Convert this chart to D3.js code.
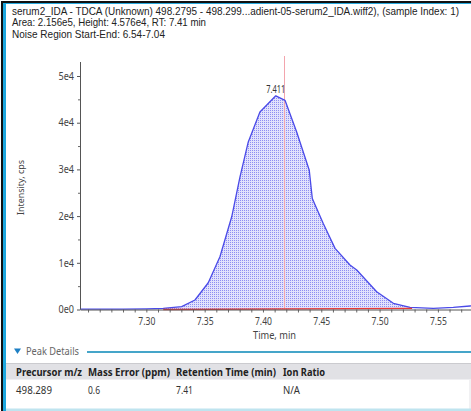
<!DOCTYPE html>
<html>
<head>
<meta charset="utf-8">
<script src="https://cdn.jsdelivr.net/npm/d3@7/dist/d3.min.js"></script>
<style>
  html, body { margin: 0; padding: 0; background: #fff; }
  svg { display: block; font-family: "Segoe UI", "Noto Sans", "Open Sans", sans-serif; }
</style>
</head>
<body>
<script>
// Extracted ion chromatogram: retention time (min) and intensity (cps)
const times = [7.243, 7.260, 7.280, 7.300, 7.3145, 7.3303, 7.3417, 7.3531, 7.3631, 7.3732,
               7.3803, 7.3874, 7.3974, 7.411, 7.4189, 7.4289, 7.4397, 7.4423, 7.4517, 7.4618,
               7.4746, 7.4804, 7.4975, 7.5118, 7.5261, 7.5461, 7.5632, 7.5775, 7.590];
const intensities = [60, 80, 70, 150, 250, 600, 2030, 5730, 11290, 19850,
                     28400, 35880, 42300, 45760, 44800, 38020, 29830, 23780, 18430, 13090,
                     9520, 8450, 3810, 1330, 470, 260, 470, 750, 820];

// Integration window and baseline
const peakStart = 7.3145, peakEnd = 7.5279;
const baselineStart = 0, baselineEnd = 250;
const apexRT = 7.411, apexLabel = "7.411";
const expectedRT = 7.418;

const xTicks = [7.30, 7.35, 7.40, 7.45, 7.50, 7.55];
const yTicks = [0, 10000, 20000, 30000, 40000, 50000];
const yTickLabels = ["0e0", "1e4", "2e4", "3e4", "4e4", "5e4"];

const headerLines = [
  "serum2_IDA - TDCA (Unknown) 498.2795 - 498.299...adient-05-serum2_IDA.wiff2), (sample Index: 1)",
  "Area: 2.156e5, Height: 4.576e4, RT: 7.41 min",
  "Noise Region Start-End: 6.54-7.04"
];
const tableColumns = ["Precursor m/z", "Mass Error (ppm)", "Retention Time (min)", "Ion Ratio"];
const tableRow = ["498.289", "0.6", "7.41", "N/A"];

const W = 471, H = 411;
const svg = d3.select("body").append("svg").attr("width", W).attr("height", H);

// Squeeze a text horizontally to a given width (the UI font is narrower than the fallbacks)
function fit(sel, widthOf) {
  sel.each(function (d, i) {
    const w = typeof widthOf === "function" ? widthOf(d, i) : widthOf;
    const cur = this.getComputedTextLength();
    if (cur > 0 && w) d3.select(this).attr("textLength", w).attr("lengthAdjust", "spacingAndGlyphs");
  });
  return sel;
}

// Window frame
svg.append("rect").attr("x", 0).attr("y", 0).attr("width", W).attr("height", H).attr("fill", "#fff");
svg.append("rect").attr("x", 1).attr("y", 1).attr("width", W - 1).attr("height", 2).attr("fill", "#111");
svg.append("rect").attr("x", 1).attr("y", 1).attr("width", 2).attr("height", H - 1).attr("fill", "#111");
svg.append("rect").attr("x", 3).attr("y", 3).attr("width", W - 3).attr("height", 1).attr("fill", "#2aa9dc");
svg.append("rect").attr("x", 3).attr("y", 3).attr("width", 3).attr("height", H - 3).attr("fill", "#1ea7de");

// Header text (compact line metrics so the three lines sit apart)
const headerY = [14.5, 26, 37.5];
const headerW = [447, 194, 153];
fit(svg.append("g").selectAll("text").data(headerLines).join("text")
  .attr("x", 12).attr("y", (d, i) => headerY[i])
  .attr("font-family", "\"Liberation Sans\", Arial, sans-serif")
  .attr("font-size", 10.2).attr("fill", "#222").text(d => d), (d, i) => headerW[i]);

// Scales
const x = d3.scaleLinear().domain([7.2431, 7.585]).range([80, 478.7]);
const y = d3.scaleLinear().domain([0, 53000]).range([309.5, 62]);

const defs = svg.append("defs");
defs.append("clipPath").attr("id", "plotClip").append("rect")
  .attr("x", 80).attr("y", 55).attr("width", W - 80).attr("height", 256);
const pat = defs.append("pattern").attr("id", "dots").attr("patternUnits", "userSpaceOnUse")
  .attr("width", 2).attr("height", 2);
pat.append("rect").attr("width", 2).attr("height", 2).attr("fill", "#e2e2fc");
pat.append("rect").attr("width", 1).attr("height", 1).attr("fill", "#8e8ef2");

const plot = svg.append("g").attr("clip-path", "url(#plotClip)");

const data = times.map((t, i) => ({ t, v: intensities[i] }));
const interp = t => {
  for (let i = 1; i < data.length; i++) {
    if (t <= data[i].t) {
      const a = data[i - 1], b = data[i];
      return a.v + (b.v - a.v) * (t - a.t) / (b.t - a.t);
    }
  }
  return data[data.length - 1].v;
};
const baseAt = t => baselineStart + (baselineEnd - baselineStart) * (t - peakStart) / (peakEnd - peakStart);

// Integrated area between trace and baseline
const inside = [{ t: peakStart, v: interp(peakStart) }]
  .concat(data.filter(d => d.t > peakStart && d.t < peakEnd))
  .concat([{ t: peakEnd, v: interp(peakEnd) }]);
const areaGen = d3.area().x(d => x(d.t)).y0(d => y(baseAt(d.t))).y1(d => y(d.v));
plot.append("path").datum(inside).attr("d", areaGen).attr("fill", "url(#dots)");

// Expected retention time marker
plot.append("line")
  .attr("x1", Math.round(x(expectedRT)) + 0.5).attr("x2", Math.round(x(expectedRT)) + 0.5)
  .attr("y1", 56).attr("y2", y(0))
  .attr("stroke", "#f3a5ad").attr("stroke-width", 1);

const tickFont = "\"Segoe UI\", \"Noto Sans\", sans-serif";

// Axes
const xAxisMinor = d3.axisBottom(x).tickValues(d3.range(7.25, 7.585, 0.01)).tickSize(3).tickFormat("");
const gxm = svg.append("g").attr("transform", `translate(0,${y(0)})`).call(xAxisMinor);
gxm.select(".domain").remove();
gxm.selectAll("line").attr("stroke", "#666");

const xAxis = d3.axisBottom(x).tickValues(xTicks).tickSize(0).tickPadding(8).tickFormat(d3.format(".2f"));
const gx = svg.append("g").attr("transform", `translate(0,${y(0)})`).call(xAxis);
gx.select(".domain").attr("stroke", "#555");
fit(gx.selectAll("text").attr("font-size", 10).attr("fill", "#444").attr("font-family", tickFont), 17);

const yAxisMinor = d3.axisLeft(y).tickValues(d3.range(5000, 53000, 10000)).tickSize(2).tickFormat("");
const gym = svg.append("g").attr("transform", "translate(80,0)").call(yAxisMinor);
gym.select(".domain").remove();
gym.selectAll("line").attr("stroke", "#666");

const yAxis = d3.axisLeft(y).tickValues(yTicks).tickSize(3).tickPadding(3)
  .tickFormat((d, i) => yTickLabels[i]);
const gy = svg.append("g").attr("transform", "translate(80,0)").call(yAxis);
gy.select(".domain").attr("stroke", "#555").attr("d", `M0.5,${y(0)}V62`);
gy.selectAll("line").attr("stroke", "#555");
fit(gy.selectAll("text").attr("font-size", 10).attr("fill", "#444").attr("font-family", tickFont), 15.5);

// Trace
const lineGen = d3.line().x(d => x(d.t)).y(d => y(d.v));
plot.append("path").datum(data).attr("d", lineGen)
  .attr("fill", "none").attr("stroke", "#4a4ae8").attr("stroke-width", 1.3)
  .attr("stroke-linejoin", "round");

// Baseline
plot.append("line")
  .attr("x1", x(peakStart)).attr("y1", y(baselineStart))
  .attr("x2", x(peakEnd)).attr("y2", y(baselineEnd))
  .attr("stroke", "#e83a3a").attr("stroke-width", 1.3);

// Apex label
fit(svg.append("text").attr("x", x(apexRT)).attr("y", y(interp(apexRT)) - 3)
  .attr("text-anchor", "middle").attr("font-size", 10).attr("fill", "#333").text(apexLabel), 19);

// Axis titles
fit(svg.append("text").attr("transform", `translate(24,${187.5}) rotate(-90)`)
  .attr("text-anchor", "middle").attr("font-size", 9.5).attr("fill", "#444").text("Intensity, cps"), 55);
fit(svg.append("text").attr("x", 274.5).attr("y", 339)
  .attr("text-anchor", "middle").attr("font-size", 10.5).attr("fill", "#444").text("Time, min"), 43);

// Peak details section
svg.append("path").attr("d", "M14,348.5 L21,348.5 L17.5,354 Z").attr("fill", "#1d7fc4");
fit(svg.append("text").attr("x", 26).attr("y", 355).attr("font-size", 10.5).attr("fill", "#666").text("Peak Details"), 53);
svg.append("rect").attr("x", 87).attr("y", 351).attr("width", W - 87).attr("height", 2).attr("fill", "#45a5c9");

svg.append("rect").attr("x", 6).attr("y", 363).attr("width", W - 6).attr("height", 16).attr("fill", "#e1e1e5");
svg.append("rect").attr("x", 6).attr("y", 363).attr("width", W - 6).attr("height", 1).attr("fill", "#cbcbcf");
svg.append("rect").attr("x", 6).attr("y", 379).attr("width", W - 6).attr("height", 1).attr("fill", "#efeff2");
svg.append("rect").attr("x", 469.5).attr("y", 380).attr("width", 1).attr("height", 29).attr("fill", "#e4e4e8");
svg.append("rect").attr("x", 6).attr("y", 408.5).attr("width", W - 6).attr("height", 2.5).attr("fill", "#bfe4ef");

const colX = [16, 88, 176, 283];
const colW = [66, 82, 100, 42];
const rowW = [36, 12, 17, 17];
fit(svg.append("g").selectAll("text").data(tableColumns).join("text")
  .attr("x", (d, i) => colX[i]).attr("y", 375.5)
  .attr("font-size", 10.5).attr("font-weight", "bold").attr("fill", "#222").text(d => d), (d, i) => colW[i]);
fit(svg.append("g").selectAll("text").data(tableRow).join("text")
  .attr("x", (d, i) => colX[i]).attr("y", 394)
  .attr("font-size", 10.5).attr("fill", "#333").text(d => d), (d, i) => rowW[i]);
</script>
</body>
</html>
